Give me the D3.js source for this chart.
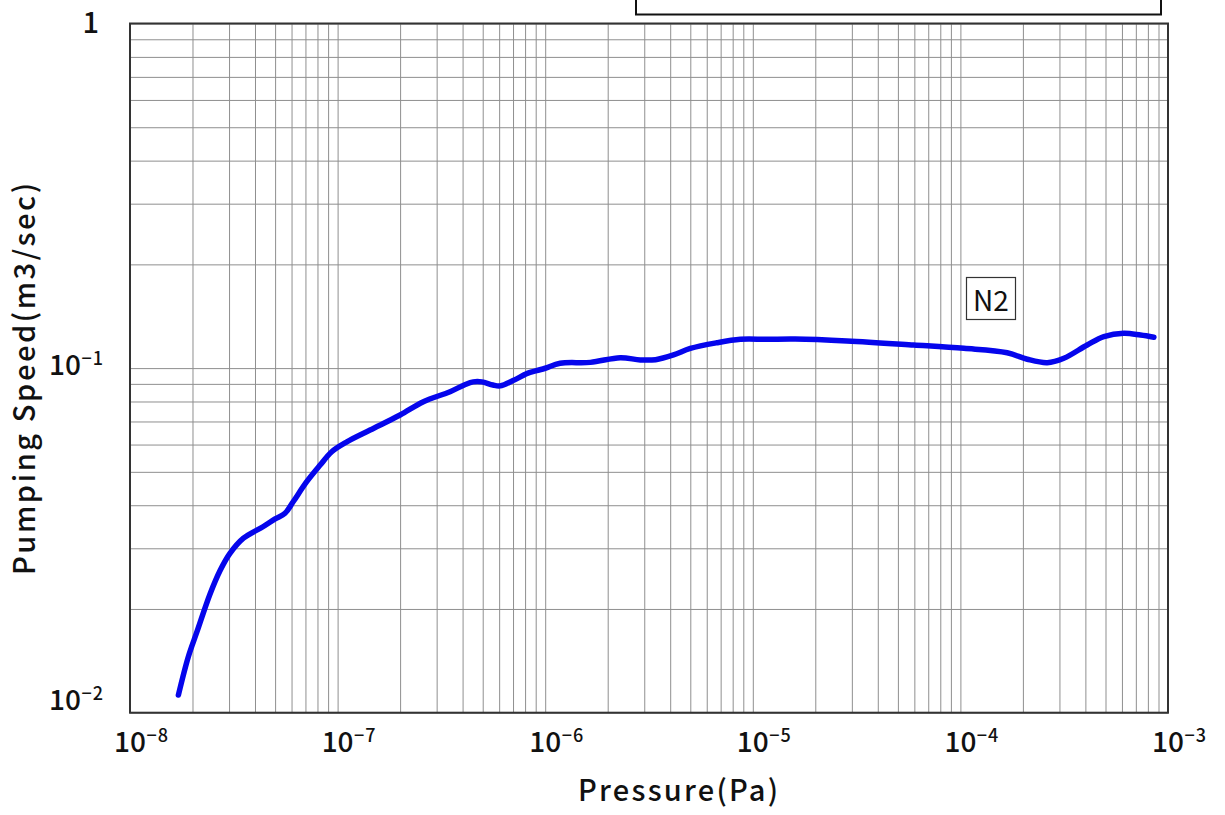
<!DOCTYPE html>
<html>
<head>
<meta charset="utf-8">
<script src="https://cdn.jsdelivr.net/npm/d3@7"></script>
<style>
  html, body { margin: 0; padding: 0; background: #fff; }
  svg { display: block; }
  text { font-family: "Noto Sans CJK JP", "Noto Sans", sans-serif; fill: #111; }
</style>
</head>
<body>
<svg id="chart" width="1225" height="815"></svg>
<script>
// ---- data ----
const pressure = [
  1.71e-8, 1.91e-8, 2.10e-8, 2.43e-8, 2.72e-8, 3.03e-8, 3.52e-8, 4.39e-8, 5.0e-8,
  5.58e-8, 6.12e-8, 7.1e-8, 8.24e-8, 9.37e-8, 1.108e-7, 1.434e-7, 2.0e-7, 2.59e-7, 3.48e-7,
  4.1e-7, 4.5e-7, 4.95e-7, 5.6e-7, 6.07e-7, 7.0e-7, 8.2e-7, 9.1e-7, 1.0e-6, 1.18e-6,
  1.65e-6, 2.3e-6, 2.87e-6, 3.4e-6, 4.15e-6, 5.0e-6, 6.72e-6, 8.71e-6, 1.17e-5, 1.6e-5,
  2.84e-5, 5.96e-5, 1.04e-4, 1.68e-4, 2.1e-4, 2.62e-4, 3.15e-4, 4.08e-4, 4.91e-4, 6.12e-4,
  7.37e-4, 8.55e-4
];
const speed = [
  0.01125, 0.01454, 0.01715, 0.0221, 0.0259, 0.0290, 0.0321, 0.0347, 0.0365,
  0.0379, 0.0410, 0.0468, 0.0523, 0.0572, 0.0611, 0.0661, 0.0731, 0.0799, 0.0854,
  0.0895, 0.0912, 0.0912, 0.0893, 0.0888, 0.0920, 0.0965, 0.0983, 0.0999, 0.1033,
  0.1039, 0.1072, 0.1056, 0.1058, 0.1092, 0.1141, 0.1185, 0.1212, 0.1212, 0.1214,
  0.1199, 0.1167, 0.1141, 0.1108, 0.1061, 0.1037, 0.1068, 0.1167, 0.1234, 0.1262,
  0.1247, 0.1229
];
const xTickValues = [1e-8, 1e-7, 1e-6, 1e-5, 1e-4, 1e-3];
const xTickExponents = ["\u22128", "\u22127", "\u22126", "\u22125", "\u22124", "\u22123"];
const yTickValues = [1e-2, 1e-1, 1];
const yTickExponents = ["\u22122", "\u22121", ""];
const seriesName = "N2";
const xTitle = "Pressure(Pa)";
const yTitle = "Pumping Speed(m3/sec)";

// ---- layout ----
const svg = d3.select("#chart");
const plot = { left: 130, right: 1168, top: 23.5, bottom: 712.7 };

const x = d3.scaleLog().domain([1e-8, 1e-3]).range([plot.left, plot.right]);
const y = d3.scaleLog().domain([1e-2, 1]).range([plot.bottom, plot.top]);

// top (cut-off) box
svg.append("rect")
  .attr("x", 636).attr("y", -20).attr("width", 525).attr("height", 34.5)
  .attr("fill", "#fff").attr("stroke", "#111").attr("stroke-width", 2);

// grid
const gridColor = "#8f8f8f";
const xMinor = [];
for (let e = -8; e < -3; e++) for (let m = 1; m <= 9; m++) xMinor.push(m * Math.pow(10, e));
xMinor.push(1e-3);
const yMinor = [];
for (let e = -2; e < 0; e++) for (let m = 1; m <= 9; m++) yMinor.push(m * Math.pow(10, e));
yMinor.push(1);

svg.append("g")
  .attr("transform", `translate(0,${plot.bottom})`)
  .call(d3.axisBottom(x).tickValues(xMinor).tickSize(-(plot.bottom - plot.top)).tickFormat(""))
  .call(g => g.select(".domain").remove())
  .call(g => g.selectAll("line").attr("stroke", gridColor).attr("stroke-width", 1));

svg.append("g")
  .attr("transform", `translate(${plot.left},0)`)
  .call(d3.axisLeft(y).tickValues(yMinor).tickSize(-(plot.right - plot.left)).tickFormat(""))
  .call(g => g.select(".domain").remove())
  .call(g => g.selectAll("line").attr("stroke", gridColor).attr("stroke-width", 1));

// frame
svg.append("rect")
  .attr("x", plot.left).attr("y", plot.top)
  .attr("width", plot.right - plot.left).attr("height", plot.bottom - plot.top)
  .attr("fill", "none").attr("stroke", "#333").attr("stroke-width", 2);

// curve
const line = d3.line()
  .x((d, i) => x(pressure[i]))
  .y((d, i) => y(speed[i]))
  .curve(d3.curveCatmullRom.alpha(0.5));
svg.append("path")
  .datum(speed)
  .attr("d", line)
  .attr("fill", "none")
  .attr("stroke", "#0505ec")
  .attr("stroke-width", 5.5)
  .attr("stroke-linecap", "round")
  .attr("stroke-linejoin", "round");

// x tick labels
xTickValues.forEach((v, i) => {
  const cx = x(v);
  const base = svg.append("text")
    .attr("x", cx).attr("y", 752)
    .attr("text-anchor", "middle")
    .attr("font-size", 28)
    .attr("font-weight", 500)
    .text("10");
  const w = base.node().getComputedTextLength();
  svg.append("text")
    .attr("x", cx + w / 2 + 0.5).attr("y", 742)
    .attr("font-size", 18)
    .attr("font-weight", 500)
    .attr("letter-spacing", 1)
    .text(xTickExponents[i]);
});

// y tick labels
yTickValues.forEach((v, i) => {
  const cy = y(v);
  const exp = yTickExponents[i];
  const baseY = v === 1 ? cy + 9 : (v === 1e-2 ? cy - 3 : cy + 6.5);
  if (exp === "") {
    svg.append("text")
      .attr("x", 99).attr("y", baseY)
      .attr("text-anchor", "end")
      .attr("font-size", 29)
      .attr("font-weight", 500)
      .text("1");
  } else {
    const sup = svg.append("text")
      .attr("x", 104).attr("y", baseY - 10)
      .attr("text-anchor", "end")
      .attr("font-size", 18)
      .attr("font-weight", 500)
      .attr("letter-spacing", 1)
      .text(exp);
    const sw = sup.node().getComputedTextLength();
    svg.append("text")
      .attr("x", 104 - sw - 0.5).attr("y", baseY)
      .attr("text-anchor", "end")
      .attr("font-size", 28)
      .attr("font-weight", 500)
      .text("10");
  }
});

// axis titles
svg.append("text")
  .attr("x", 678).attr("y", 801)
  .attr("text-anchor", "middle")
  .attr("font-size", 29)
  .attr("font-weight", 500)
  .attr("textLength", 200).attr("lengthAdjust", "spacing")
  .text(xTitle);

svg.append("text")
  .attr("transform", "translate(35,379) rotate(-90)")
  .attr("text-anchor", "middle")
  .attr("font-size", 29)
  .attr("font-weight", 500)
  .attr("textLength", 392).attr("lengthAdjust", "spacing")
  .text(yTitle);

// series label box
svg.append("rect")
  .attr("x", 966.5).attr("y", 277.5).attr("width", 49).attr("height", 42)
  .attr("fill", "#fff").attr("stroke", "#333").attr("stroke-width", 1.2);
svg.append("text")
  .attr("x", 991).attr("y", 311)
  .attr("text-anchor", "middle")
  .attr("font-size", 28)
  .text(seriesName);
</script>
</body>
</html>
